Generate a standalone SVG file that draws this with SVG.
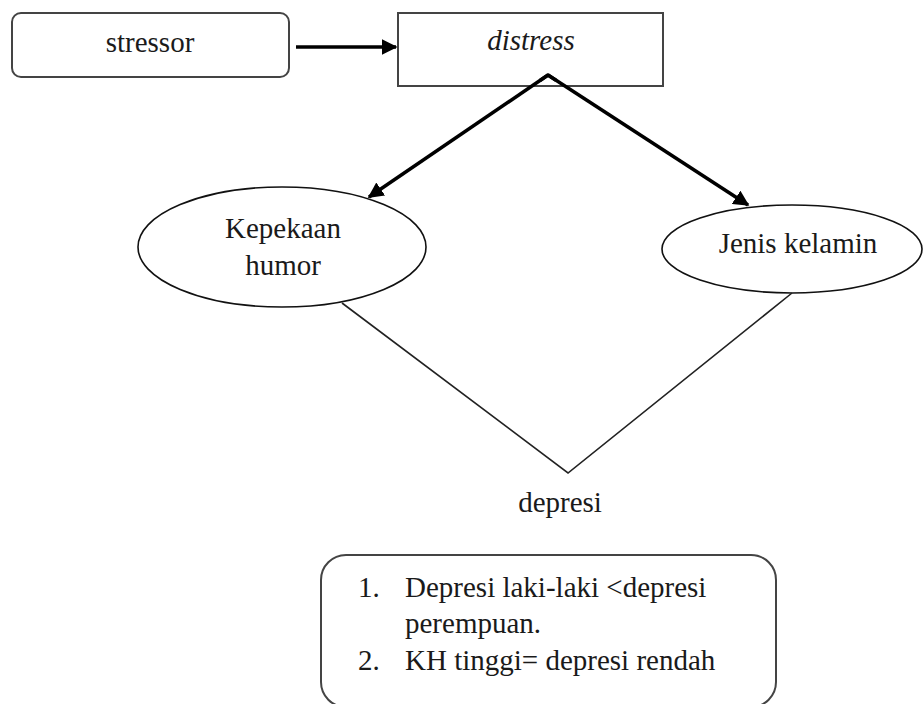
<svg xmlns="http://www.w3.org/2000/svg" width="923" height="704" viewBox="0 0 923 704">
<style>
.t{font-family:"Liberation Serif","Times New Roman",serif;font-size:29px;fill:#1a1a1a}
.box{fill:#fff;stroke:#444;stroke-width:2}
.ell{fill:#fff;stroke:#111;stroke-width:1.6}
.thick{stroke:#000;stroke-width:3.5;fill:none;stroke-linejoin:miter}
.thin{stroke:#222;stroke-width:1.6;fill:none}
</style>
<defs>
<marker id="ah" viewBox="0 0 10 10" refX="9" refY="5" markerWidth="4.5" markerHeight="4.5" markerUnits="strokeWidth" orient="auto">
<path d="M0,0 L10,5 L0,10 z" fill="#000"/>
</marker>
</defs>
<rect width="923" height="704" fill="#fff"/>
<g id="stressor">
<rect class="box" x="12" y="13" width="277" height="64" rx="9"/>
<text class="t" x="150" y="52" text-anchor="middle">stressor</text>
</g>
<g id="distress">
<rect class="box" x="398" y="13" width="265" height="73"/>
<text class="t" x="531" y="50" text-anchor="middle" font-style="italic">distress</text>
</g>
<g id="kepekaan">
<ellipse class="ell" cx="282" cy="247" rx="144" ry="60"/>
<text class="t" x="283" y="238" text-anchor="middle">Kepekaan</text>
<text class="t" x="283" y="275" text-anchor="middle">humor</text>
</g>
<g id="jenis">
<ellipse class="ell" cx="792" cy="249" rx="130" ry="44"/>
<text class="t" x="798" y="253" text-anchor="middle">Jenis kelamin</text>
</g>
<g id="depresi">
<text class="t" x="560" y="512" text-anchor="middle">depresi</text>
</g>
<g id="notes">
<rect class="box" x="321" y="555" width="455" height="152" rx="25"/>
<text class="t" x="358" y="597">1.</text>
<text class="t" x="405" y="597">Depresi laki-laki &lt;depresi</text>
<text class="t" x="405" y="633">perempuan.</text>
<text class="t" x="358" y="670">2.</text>
<text class="t" x="405" y="670">KH tinggi= depresi rendah</text>
</g>
<g id="connectors">
<line class="thick" x1="296" y1="47" x2="396" y2="47" marker-end="url(#ah)"/>
<line class="thick" x1="548" y1="75" x2="369" y2="197" marker-end="url(#ah)"/>
<line class="thick" x1="548" y1="75" x2="748" y2="205" marker-end="url(#ah)"/>
<polyline class="thick" points="540,80.5 548,75 556,80.2"/>
<polyline class="thin" points="342,303 568,473 792,293"/>
</g>
</svg>
